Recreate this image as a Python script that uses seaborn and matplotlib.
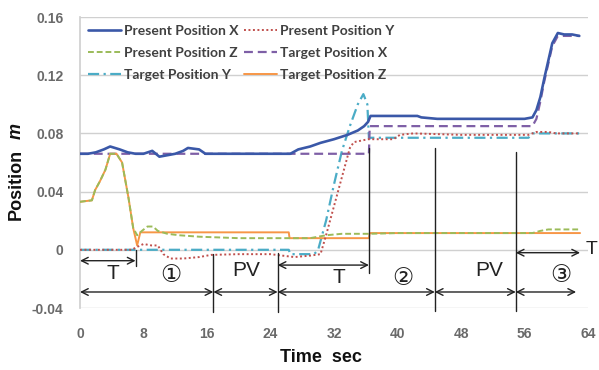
import numpy as np
import pandas as pd
import matplotlib
matplotlib.use("Agg")
import matplotlib.pyplot as plt
import seaborn as sns

# ---------------- data ----------------
px_t = [0, 1, 2, 3, 3.8, 5, 6, 7, 8, 9.1, 10, 11, 12, 13, 13.6, 15, 15.8, 17, 20, 24, 26.5, 27.5, 29, 30.3, 32, 33.7, 35, 35.8, 36.3, 36.6, 38, 40, 42.5, 43, 45, 48, 52, 56, 57, 57.5, 58, 58.5, 59, 59.5, 60.2, 61, 62, 62.9]
px_v = [0.066, 0.066, 0.067, 0.069, 0.071, 0.069, 0.067, 0.066, 0.066, 0.068, 0.064, 0.065, 0.066, 0.068, 0.070, 0.069, 0.066, 0.066, 0.066, 0.066, 0.066, 0.069, 0.071, 0.0735, 0.076, 0.079, 0.082, 0.085, 0.088, 0.092, 0.092, 0.092, 0.092, 0.091, 0.090, 0.090, 0.090, 0.090, 0.091, 0.096, 0.105, 0.118, 0.130, 0.142, 0.149, 0.148, 0.148, 0.147]

py_t = [0, 6.5, 7.2, 8, 9, 9.8, 10.5, 11.4, 13, 15, 16.5, 20, 24, 25.5, 27, 29, 30.3, 31, 32, 33, 34, 34.5, 36.3, 39.5, 40.3, 42, 48, 56.5, 57.5, 59, 60, 63]
py_v = [0, 0, 0.002, 0.004, 0.003, 0.003, -0.003, -0.006, -0.006, -0.005, -0.0035, -0.003, -0.003, -0.004, -0.005, -0.004, -0.003, 0.010, 0.030, 0.050, 0.070, 0.074, 0.076, 0.076, 0.079, 0.080, 0.079, 0.079, 0.081, 0.081, 0.080, 0.080]

pz_t = [0, 1.5, 1.9, 2.5, 3.2, 3.8, 4.6, 5.3, 6.1, 6.7, 7.2, 7.8, 8.5, 9.2, 9.8, 11, 12.5, 15, 20, 26, 29, 31, 33, 36.5, 40, 57, 58, 59, 63]
pz_v = [0.033, 0.034, 0.041, 0.047, 0.055, 0.066, 0.066, 0.060, 0.036, 0.015, 0.010, 0.013, 0.016, 0.016, 0.013, 0.011, 0.010, 0.009, 0.008, 0.008, 0.008, 0.010, 0.011, 0.011, 0.0115, 0.0115, 0.013, 0.014, 0.014]

tx_t = [0, 36.4, 36.5, 57, 57.5, 58, 58.5, 59, 59.5, 60.2, 63]
tx_v = [0.066, 0.066, 0.085, 0.085, 0.090, 0.102, 0.116, 0.128, 0.140, 0.147, 0.147]

ty_t = [0, 26.3, 26.5, 29.5, 30, 31, 32, 33, 34, 35, 35.7, 36.2, 36.4, 56.5, 57, 63]
ty_v = [0, 0, -0.003, -0.003, 0.0, 0.020, 0.045, 0.068, 0.085, 0.100, 0.107, 0.100, 0.077, 0.077, 0.080, 0.080]

tz_t = [0, 1.5, 1.9, 2.5, 3.2, 3.8, 4.6, 5.3, 6.1, 6.7, 7.2, 7.6, 26.3, 26.4, 36.4, 36.5, 63]
tz_v = [0.033, 0.034, 0.041, 0.047, 0.055, 0.066, 0.066, 0.060, 0.036, 0.015, 0.003, 0.012, 0.012, 0.008, 0.008, 0.0115, 0.0115]

series_names = ["Present Position X", "Present Position Y", "Present Position Z",
                "Target Position X", "Target Position Y", "Target Position Z"]

x_ticks = [0, 8, 16, 24, 32, 40, 48, 56, 64]
y_ticks = [-0.04, 0, 0.04, 0.08, 0.12, 0.16]
y_tick_labels = ["-0.04", "0", "0.04", "0.08", "0.12", "0.16"]

# phase annotation data
vline_t = [7, 16.8, 24.9, 36.4, 44.7, 54.9]
vline_top = [0.0, -0.003, -0.002, 0.070, 0.070, 0.067]
vline_bot = [-0.011, -0.043, -0.043, -0.016, -0.042, -0.042]

arrow_x0 = [0, 24.9, 54.9, 0, 16.8, 24.9, 44.7, 54.9]
arrow_x1 = [7, 36.4, 63.0, 16.8, 24.9, 44.7, 54.9, 62.5]
arrow_y = [-0.0075, -0.0105, -0.002, -0.029, -0.029, -0.029, -0.029, -0.029]

label_text = ["T", "\u2460", "PV", "T", "\u2461", "PV", "\u2462"]
label_x = [4.2, 11.4, 21.0, 32.6, 40.7, 51.5, 60.6]
label_y = [-0.0165, -0.0175, -0.0145, -0.019, -0.0195, -0.0145, -0.0175]

# ---------------- build frame ----------------
frames = []
for name, t, v in zip(series_names,
                      [px_t, py_t, pz_t, tx_t, ty_t, tz_t],
                      [px_v, py_v, pz_v, tx_v, ty_v, tz_v]):
    frames.append(pd.DataFrame({"t": t, "v": v, "series": name}))
df = pd.concat(frames, ignore_index=True)

styles = {
    "Present Position X": dict(color="#3A58A8", ls="-", lw=1.9, z=6),
    "Present Position Y": dict(color="#C0504D", ls=(0, (1, 1.3)), lw=1.4, z=5),
    "Present Position Z": dict(color="#9BBB59", ls=(0, (3, 1.5)), lw=1.4, z=4),
    "Target Position X": dict(color="#7E5FA6", ls=(0, (4, 2.2)), lw=1.6, z=3),
    "Target Position Y": dict(color="#4BACC6", ls=(0, (5, 2, 1, 2)), lw=1.6, z=2),
    "Target Position Z": dict(color="#F79646", ls="-", lw=1.4, z=3),
}

sns.set_theme(style="white")
plt.rcParams['font.family'] = ['Liberation Sans', 'DejaVu Sans']

fig = plt.figure(figsize=(5.99, 3.70), dpi=100)
ax = fig.add_axes([80 / 599, 1 - 308 / 370, 508 / 599, 291 / 370])

for name in series_names:
    s = styles[name]
    sub = df[df["series"] == name]
    sns.lineplot(data=sub, x="t", y="v", ax=ax, color=s["color"], linestyle=s["ls"],
                 linewidth=s["lw"], label=name, zorder=s["z"], estimator=None, sort=False)

ax.set_xlim(0, 64)
ax.set_ylim(-0.04, 0.16)
ax.set_xticks(x_ticks)
ax.set_xticklabels([str(v) for v in x_ticks])
ax.set_yticks(y_ticks)
ax.set_yticklabels(y_tick_labels)
ax.grid(axis="y", color="#D0D0D0", lw=1.0)
ax.grid(axis="x", visible=False)
for sp in ["top", "right", "bottom"]:
    ax.spines[sp].set_visible(False)
ax.spines["left"].set_color("#D0D0D0")
ax.tick_params(axis="both", length=0, labelcolor="#6A6A6A", labelsize=10)
ax.tick_params(axis="x", pad=14)
ax.tick_params(axis="y", pad=12)
for lab in ax.get_xticklabels() + ax.get_yticklabels():
    lab.set_fontweight("bold")
ax.set_xlabel("")
ax.set_ylabel("")

# phase lines
for t, top, bot in zip(vline_t, vline_top, vline_bot):
    ax.plot([t, t], [top, bot], color="#222222", lw=1.0, clip_on=False, zorder=7)
for x0, x1, y in zip(arrow_x0, arrow_x1, arrow_y):
    ax.annotate("", xy=(x1, y), xytext=(x0, y),
                arrowprops=dict(arrowstyle="<->", color="#222222", lw=1.0,
                                shrinkA=0, shrinkB=0, mutation_scale=12),
                annotation_clip=False, zorder=7)
for txt, x, y in zip(label_text, label_x, label_y):
    circ = txt in ("\u2460", "\u2461", "\u2462")
    ax.text(x, y, txt, ha="center", va="center", fontsize=17 if circ else 15,
            color="#222222", family=['DejaVu Sans'] if circ else ['Liberation Sans'], zorder=8)
ax.text(63.7, 0.0005, "T", ha="left", va="center", fontsize=14, color="#222222", clip_on=False)

# legend (row-wise order like the reference)
handles, labels = ax.get_legend_handles_labels()
order = [0, 2, 4, 1, 3, 5]
leg = ax.legend([handles[i] for i in order], [labels[i] for i in order],
                loc="upper left", bbox_to_anchor=(0.0, 1.0), ncol=2, frameon=False,
                fontsize=10, handlelength=2.4, handletextpad=0.2, columnspacing=0.4,
                labelspacing=0.72, borderaxespad=0.45, borderpad=0.1)
for t in leg.get_texts():
    t.set_color("#404040")
    t.set_family(["Lato", "DejaVu Sans"])
    t.set_fontweight("bold")

# axis titles
fig.text(321 / 599, 1 - 358 / 370, "Time  sec", ha="center", va="center",
         fontsize=13, fontweight="bold", color="#111111")
fig.text(16 / 599, 1 - 184 / 370, "Position", ha="center", va="center", rotation=90,
         fontsize=13, fontweight="bold", color="#111111")
fig.text(16 / 599, 1 - 131 / 370, "m", ha="center", va="center", rotation=90,
         fontsize=13, fontweight="bold", style="italic", color="#111111")

fig.savefig("out.png", dpi=100, facecolor="white")
